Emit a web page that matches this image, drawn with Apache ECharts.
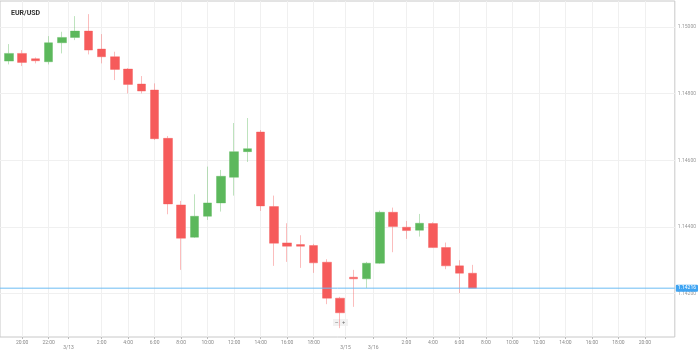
<!DOCTYPE html>
<html>
<head>
<meta charset="utf-8">
<script src="https://cdn.jsdelivr.net/npm/echarts@6/dist/echarts.min.js"></script>
<style>
  html, body { margin: 0; padding: 0; background: #fff; }
  #chart { width: 699px; height: 351px; }
</style>
</head>
<body>
<div id="chart"></div>
<script>
// hourly candles, index 0 = 3/12 19:00
const opens  = [1.14898, 1.14921, 1.14905, 1.14896, 1.14953, 1.14969, 1.14988, 1.14934, 1.14911, 1.14874, 1.14829, 1.14811,
                1.14666, 1.14466, 1.14369, 1.14432, 1.14472, 1.14549, 1.14626, 1.14685, 1.14461, 1.14352, 1.14347, 1.14344,
                1.14294, 1.14186, 1.14249, 1.14244, 1.14291, 1.14444, 1.14399, 1.14390, 1.14410, 1.14338, 1.14283, 1.14261]
const closes = [1.14921, 1.14894, 1.14899, 1.14953, 1.14969, 1.14988, 1.14931, 1.14911, 1.14873, 1.14828, 1.14808, 1.14665,
                1.14469, 1.14366, 1.14432, 1.14472, 1.14552, 1.14626, 1.14635, 1.14463, 1.14351, 1.14342, 1.14342, 1.14292,
                1.14186, 1.14142, 1.14244, 1.14291, 1.14444, 1.14401, 1.14389, 1.14411, 1.14338, 1.14283, 1.14261, 1.14216]
const lows   = [1.14888, 1.14883, 1.14891, 1.14888, 1.14921, 1.14961, 1.14918, 1.14891, 1.14841, 1.14801, 1.14801, 1.14661,
                1.14438, 1.14271, 1.14367, 1.14421, 1.14446, 1.14494, 1.14595, 1.14448, 1.14283, 1.14295, 1.14277, 1.14262,
                1.14168, 1.14096, 1.14160, 1.14216, 1.14289, 1.14324, 1.14364, 1.14371, 1.14337, 1.14273, 1.14201, 1.14216]
const highs  = [1.14949, 1.14931, 1.14909, 1.14973, 1.14986, 1.15033, 1.15039, 1.14979, 1.14926, 1.14877, 1.14853, 1.14831,
                1.14673, 1.14478, 1.14498, 1.14581, 1.14571, 1.14712, 1.14727, 1.14691, 1.14494, 1.14411, 1.14375, 1.14349,
                1.14303, 1.14190, 1.14271, 1.14295, 1.14449, 1.14458, 1.14418, 1.14439, 1.14414, 1.14353, 1.14300, 1.14286]

// x axis ticks (in candle index units) and their labels
const xTickPos = [1, 3, 4.5, 7, 9, 11, 13, 15, 17, 19, 21, 23, 25.4, 27.5, 30, 32, 34, 36, 38, 40, 42, 44, 46, 48]
const xTickLabels = ['20:00', '22:00', '3/13', '2:00', '4:00', '6:00', '8:00', '10:00', '12:00', '14:00', '16:00', '18:00',
                     '3/15', '3/16', '2:00', '4:00', '6:00', '8:00', '10:00', '12:00', '14:00', '16:00', '18:00', '20:00']
const yTicks = [1.142, 1.144, 1.146, 1.148, 1.150]

const xMin = -0.673
const xMax = 50.26
const lastPrice = closes[closes.length - 1]

const candles = opens.map((o, i) => [i, o, closes[i], lows[i], highs[i]])

const chart = echarts.init(document.getElementById('chart'))

const labelFor = (v) => {
    let k = 0
    xTickPos.forEach((p, i) => { if (Math.abs(p - v) < Math.abs(xTickPos[k] - v)) k = i })
    const t = xTickLabels[k]
    return t.indexOf('/') >= 0 ? '\n' + t : t
}

const option = {
    animation: false,
    textStyle: { fontFamily: 'Roboto, sans-serif' },
    title: {
        text: 'EUR/USD',
        left: 6,
        top: 5,
        textStyle: { fontSize: 7, fontWeight: 'bold', color: '#333' }
    },
    grid: {
        left: 0,
        right: 18,
        top: 1,
        bottom: 14,
        show: true,
        borderColor: '#c8c8c8',
        borderWidth: 1
    },
    xAxis: {
        type: 'value',
        min: xMin,
        max: xMax,
        axisLine: { show: false },
        axisTick: { show: true, length: 2, lineStyle: { color: '#bbb' }, customValues: xTickPos },
        axisLabel: {
            customValues: xTickPos,
            fontSize: 5,
            lineHeight: 5,
            color: '#888',
            margin: 3,
            formatter: labelFor
        },
        splitLine: { show: true, lineStyle: { color: '#f0f0f0', width: 1 } }
    },
    yAxis: {
        type: 'value',
        position: 'right',
        min: 1.140694,
        max: 1.150784,
        axisLine: { show: false },
        axisTick: { show: false, customValues: yTicks },
        axisLabel: {
            customValues: yTicks,
            fontSize: 5,
            color: '#999',
            margin: 3,
            formatter: (v) => v.toFixed(5)
        },
        splitLine: { show: true, lineStyle: { color: '#f0f0f0', width: 1 } }
    },
    series: [
        {
            type: 'candlestick',
            data: candles,
            encode: { x: 0, y: [1, 2, 3, 4] },
            barWidth: 9,
            itemStyle: {
                color: '#5cb85c',
                color0: '#f65b5b',
                borderColor: 'rgba(92,184,92,0.4)',
                borderColor0: 'rgba(246,91,91,0.4)',
                borderWidth: 1
            }
        },
        {
            // current price line across the whole plot
            type: 'line',
            data: [[xMin, lastPrice], [xMax, lastPrice]],
            showSymbol: false,
            silent: true,
            z: 3,
            lineStyle: { color: '#6cbcf4', width: 1 },
            endLabel: {
                show: true,
                distance: 1,
                formatter: lastPrice.toFixed(5),
                fontSize: 5,
                color: '#fff',
                backgroundColor: '#3fa4f2',
                padding: [1, 2],
                borderRadius: 1
            }
        }
    ],
    graphic: [
        {
            type: 'group',
            left: 333,
            top: 319,
            z: 100,
            children: [
                { type: 'rect', shape: { x: 0, y: 0, width: 15, height: 7 }, style: { fill: '#f2f2f2' } },
                { type: 'text', x: 2, y: 0.5, style: { text: '−', fontSize: 6, fill: '#666' } },
                { type: 'text', x: 9, y: 0.5, style: { text: '+', fontSize: 6, fill: '#666' } }
            ]
        }
    ]
}

chart.setOption(option)

window.addEventListener('resize', () => {
    chart.resize()
})
</script>
</body>
</html>
